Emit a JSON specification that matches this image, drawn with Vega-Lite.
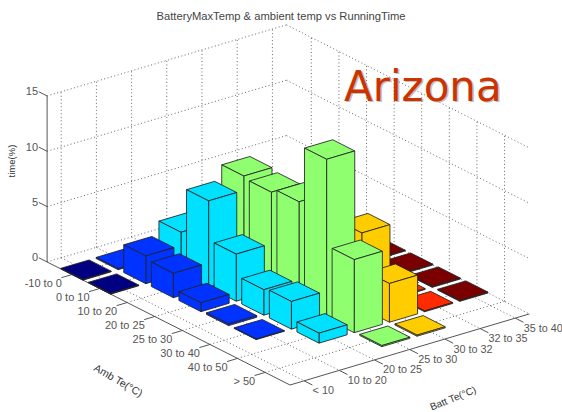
{"$schema":"https://vega.github.io/schema/vega-lite/v6.json","width":562,"height":412,"padding":0,"autosize":"none","background":"white",
"title":{"text":"BatteryMaxTemp & ambient temp vs RunningTime","anchor":"middle","dy":26,"fontSize":11.2,"font":"Liberation Sans","fontWeight":"normal","color":"#444"},
"config":{"view":{"stroke":null}},
"datasets":{
"bars":[
{"amb":"-10 to 0","batt":"10 to 20","a":1,"b":2,"time":0.1},
{"amb":"-10 to 0","batt":"< 10","a":1,"b":1,"time":0.06},
{"amb":"0 to 10","batt":"20 to 25","a":2,"b":3,"time":3.7},
{"amb":"0 to 10","batt":"10 to 20","a":2,"b":2,"time":2.5},
{"amb":"0 to 10","batt":"< 10","a":2,"b":1,"time":0.06},
{"amb":"10 to 20","batt":"25 to 30","a":3,"b":4,"time":9.1},
{"amb":"10 to 20","batt":"20 to 25","a":3,"b":3,"time":7.8},
{"amb":"10 to 20","batt":"10 to 20","a":3,"b":2,"time":2.2},
{"amb":"20 to 25","batt":"35 to 40","a":4,"b":7,"time":0.08},
{"amb":"20 to 25","batt":"25 to 30","a":4,"b":4,"time":8.9},
{"amb":"20 to 25","batt":"20 to 25","a":4,"b":3,"time":4.25},
{"amb":"20 to 25","batt":"10 to 20","a":4,"b":2,"time":0.8},
{"amb":"25 to 30","batt":"35 to 40","a":5,"b":7,"time":0.08},
{"amb":"25 to 30","batt":"25 to 30","a":5,"b":4,"time":9.3},
{"amb":"25 to 30","batt":"20 to 25","a":5,"b":3,"time":2.3},
{"amb":"25 to 30","batt":"10 to 20","a":5,"b":2,"time":0.15},
{"amb":"30 to 40","batt":"35 to 40","a":6,"b":7,"time":0.08},
{"amb":"30 to 40","batt":"32 to 35","a":6,"b":6,"time":0.08},
{"amb":"30 to 40","batt":"30 to 32","a":6,"b":5,"time":6.8},
{"amb":"30 to 40","batt":"25 to 30","a":6,"b":4,"time":14.4},
{"amb":"30 to 40","batt":"20 to 25","a":6,"b":3,"time":2.5},
{"amb":"30 to 40","batt":"10 to 20","a":6,"b":2,"time":0.05},
{"amb":"40 to 50","batt":"35 to 40","a":7,"b":7,"time":0.08},
{"amb":"40 to 50","batt":"32 to 35","a":7,"b":6,"time":0.08},
{"amb":"40 to 50","batt":"30 to 32","a":7,"b":5,"time":3.5},
{"amb":"40 to 50","batt":"25 to 30","a":7,"b":4,"time":6.6},
{"amb":"40 to 50","batt":"20 to 25","a":7,"b":3,"time":0.9},
{"amb":"> 50","batt":"30 to 32","a":8,"b":5,"time":0.1},
{"amb":"> 50","batt":"25 to 30","a":8,"b":4,"time":0.1}
],
"grid":[
{"a1":0.1,"b1":1,"z1":0,"a2":0.1,"b2":1,"z2":15},{"a1":0.1,"b1":2,"z1":0,"a2":0.1,"b2":2,"z2":15},{"a1":0.1,"b1":3,"z1":0,"a2":0.1,"b2":3,"z2":15},{"a1":0.1,"b1":4,"z1":0,"a2":0.1,"b2":4,"z2":15},{"a1":0.1,"b1":5,"z1":0,"a2":0.1,"b2":5,"z2":15},{"a1":0.1,"b1":6,"z1":0,"a2":0.1,"b2":6,"z2":15},{"a1":0.1,"b1":7,"z1":0,"a2":0.1,"b2":7,"z2":15},
{"a1":0.1,"b1":0.6,"z1":5,"a2":0.1,"b2":7.4,"z2":5},{"a1":0.1,"b1":0.6,"z1":10,"a2":0.1,"b2":7.4,"z2":10},{"a1":0.1,"b1":0.6,"z1":15,"a2":0.1,"b2":7.4,"z2":15},{"a1":0.1,"b1":0.6,"z1":0,"a2":0.1,"b2":7.4,"z2":0},
{"a1":1,"b1":7.4,"z1":0,"a2":1,"b2":7.4,"z2":15},{"a1":2,"b1":7.4,"z1":0,"a2":2,"b2":7.4,"z2":15},{"a1":3,"b1":7.4,"z1":0,"a2":3,"b2":7.4,"z2":15},{"a1":4,"b1":7.4,"z1":0,"a2":4,"b2":7.4,"z2":15},{"a1":5,"b1":7.4,"z1":0,"a2":5,"b2":7.4,"z2":15},{"a1":6,"b1":7.4,"z1":0,"a2":6,"b2":7.4,"z2":15},{"a1":7,"b1":7.4,"z1":0,"a2":7,"b2":7.4,"z2":15},{"a1":8,"b1":7.4,"z1":0,"a2":8,"b2":7.4,"z2":15},
{"a1":0.1,"b1":7.4,"z1":5,"a2":8.9,"b2":7.4,"z2":5},{"a1":0.1,"b1":7.4,"z1":10,"a2":8.9,"b2":7.4,"z2":10},{"a1":0.1,"b1":7.4,"z1":15,"a2":8.9,"b2":7.4,"z2":15},{"a1":0.1,"b1":7.4,"z1":0,"a2":8.9,"b2":7.4,"z2":0},
{"a1":1,"b1":0.6,"z1":0,"a2":1,"b2":7.4,"z2":0},{"a1":2,"b1":0.6,"z1":0,"a2":2,"b2":7.4,"z2":0},{"a1":3,"b1":0.6,"z1":0,"a2":3,"b2":7.4,"z2":0},{"a1":4,"b1":0.6,"z1":0,"a2":4,"b2":7.4,"z2":0},{"a1":5,"b1":0.6,"z1":0,"a2":5,"b2":7.4,"z2":0},{"a1":6,"b1":0.6,"z1":0,"a2":6,"b2":7.4,"z2":0},{"a1":7,"b1":0.6,"z1":0,"a2":7,"b2":7.4,"z2":0},{"a1":8,"b1":0.6,"z1":0,"a2":8,"b2":7.4,"z2":0},
{"a1":0.1,"b1":1,"z1":0,"a2":8.9,"b2":1,"z2":0},{"a1":0.1,"b1":2,"z1":0,"a2":8.9,"b2":2,"z2":0},{"a1":0.1,"b1":3,"z1":0,"a2":8.9,"b2":3,"z2":0},{"a1":0.1,"b1":4,"z1":0,"a2":8.9,"b2":4,"z2":0},{"a1":0.1,"b1":5,"z1":0,"a2":8.9,"b2":5,"z2":0},{"a1":0.1,"b1":6,"z1":0,"a2":8.9,"b2":6,"z2":0},{"a1":0.1,"b1":7,"z1":0,"a2":8.9,"b2":7,"z2":0}
],
"axes":[
{"a1":0.1,"b1":0.6,"z1":0,"a2":0.1,"b2":0.6,"z2":15,"part":"z"},
{"a1":0.1,"b1":0.6,"z1":0,"a2":8.9,"b2":0.6,"z2":0,"part":"amb"},
{"a1":8.9,"b1":0.6,"z1":0,"a2":8.9,"b2":7.4,"z2":0,"part":"batt"},
{"a1":0.1,"b1":0.6,"z1":0,"a2":-0.2,"b2":0.6,"z2":0,"part":"tick"},{"a1":0.1,"b1":0.6,"z1":5,"a2":-0.2,"b2":0.6,"z2":5,"part":"tick"},{"a1":0.1,"b1":0.6,"z1":10,"a2":-0.2,"b2":0.6,"z2":10,"part":"tick"},{"a1":0.1,"b1":0.6,"z1":15,"a2":-0.2,"b2":0.6,"z2":15,"part":"tick"},
{"a1":1,"b1":0.6,"z1":0,"a2":1,"b2":0.3,"z2":0,"part":"tick"},{"a1":2,"b1":0.6,"z1":0,"a2":2,"b2":0.3,"z2":0,"part":"tick"},{"a1":3,"b1":0.6,"z1":0,"a2":3,"b2":0.3,"z2":0,"part":"tick"},{"a1":4,"b1":0.6,"z1":0,"a2":4,"b2":0.3,"z2":0,"part":"tick"},{"a1":5,"b1":0.6,"z1":0,"a2":5,"b2":0.3,"z2":0,"part":"tick"},{"a1":6,"b1":0.6,"z1":0,"a2":6,"b2":0.3,"z2":0,"part":"tick"},{"a1":7,"b1":0.6,"z1":0,"a2":7,"b2":0.3,"z2":0,"part":"tick"},{"a1":8,"b1":0.6,"z1":0,"a2":8,"b2":0.3,"z2":0,"part":"tick"},
{"a1":8.9,"b1":1,"z1":0,"a2":9.2,"b2":1,"z2":0,"part":"tick"},{"a1":8.9,"b1":2,"z1":0,"a2":9.2,"b2":2,"z2":0,"part":"tick"},{"a1":8.9,"b1":3,"z1":0,"a2":9.2,"b2":3,"z2":0,"part":"tick"},{"a1":8.9,"b1":4,"z1":0,"a2":9.2,"b2":4,"z2":0,"part":"tick"},{"a1":8.9,"b1":5,"z1":0,"a2":9.2,"b2":5,"z2":0,"part":"tick"},{"a1":8.9,"b1":6,"z1":0,"a2":9.2,"b2":6,"z2":0,"part":"tick"},{"a1":8.9,"b1":7,"z1":0,"a2":9.2,"b2":7,"z2":0,"part":"tick"}
],
"labels":[
{"kind":"z","label":"0","a":0.1,"b":0.6,"z":0},{"kind":"z","label":"5","a":0.1,"b":0.6,"z":5},{"kind":"z","label":"10","a":0.1,"b":0.6,"z":10},{"kind":"z","label":"15","a":0.1,"b":0.6,"z":15},
{"kind":"amb","label":"-10 to 0","a":1,"b":0.6,"z":0},{"kind":"amb","label":"0 to 10","a":2,"b":0.6,"z":0},{"kind":"amb","label":"10 to 20","a":3,"b":0.6,"z":0},{"kind":"amb","label":"20 to 25","a":4,"b":0.6,"z":0},{"kind":"amb","label":"25 to 30","a":5,"b":0.6,"z":0},{"kind":"amb","label":"30 to 40","a":6,"b":0.6,"z":0},{"kind":"amb","label":"40 to 50","a":7,"b":0.6,"z":0},{"kind":"amb","label":"> 50","a":8,"b":0.6,"z":0},
{"kind":"batt","label":"< 10","a":8.9,"b":1,"z":0},{"kind":"batt","label":"10 to 20","a":8.9,"b":2,"z":0},{"kind":"batt","label":"20 to 25","a":8.9,"b":3,"z":0},{"kind":"batt","label":"25 to 30","a":8.9,"b":4,"z":0},{"kind":"batt","label":"30 to 32","a":8.9,"b":5,"z":0},{"kind":"batt","label":"32 to 35","a":8.9,"b":6,"z":0},{"kind":"batt","label":"35 to 40","a":8.9,"b":7,"z":0},
{"kind":"ztitle","label":"time(%)","a":-1.18,"b":0.6,"z":7.5},
{"kind":"atitle","label":"Amb Te(°C)","a":6.42,"b":-2.34,"z":0},
{"kind":"btitle","label":"Batt Te(°C)","a":11.7,"b":3.04,"z":0},
{"kind":"note","label":"Arizona","a":5.04,"b":7.4,"z":14.4}
]
},
"layer":[
{"data":{"name":"grid"},
"transform":[{"calculate":"290+(datum.a1-8.9)*27.6+(datum.b1-0.6)*35.2","as":"px"},{"calculate":"385+(datum.a1-8.9)*13.98-(datum.b1-0.6)*10.45-datum.z1*11.07","as":"py"},{"calculate":"290+(datum.a2-8.9)*27.6+(datum.b2-0.6)*35.2","as":"qx"},{"calculate":"385+(datum.a2-8.9)*13.98-(datum.b2-0.6)*10.45-datum.z2*11.07","as":"qy"}],
"mark":{"type":"rule","stroke":"#666","strokeWidth":1,"strokeDash":[1,2.5]},
"encoding":{"x":{"field":"px","type":"quantitative","scale":{"domain":[0,562],"nice":false,"zero":false},"axis":null},"y":{"field":"py","type":"quantitative","scale":{"domain":[412,0],"nice":false,"zero":false},"axis":null},"x2":{"field":"qx"},"y2":{"field":"qy"}}},
{"data":{"name":"axes"},
"transform":[{"calculate":"290+(datum.a1-8.9)*27.6+(datum.b1-0.6)*35.2","as":"px"},{"calculate":"385+(datum.a1-8.9)*13.98-(datum.b1-0.6)*10.45-datum.z1*11.07","as":"py"},{"calculate":"290+(datum.a2-8.9)*27.6+(datum.b2-0.6)*35.2","as":"qx"},{"calculate":"385+(datum.a2-8.9)*13.98-(datum.b2-0.6)*10.45-datum.z2*11.07","as":"qy"}],
"mark":{"type":"rule","stroke":"#555","strokeWidth":1},
"encoding":{"x":{"field":"px","type":"quantitative","axis":null},"y":{"field":"py","type":"quantitative","axis":null},"x2":{"field":"qx"},"y2":{"field":"qy"}}},
{"data":{"name":"bars"},
"transform":[
{"calculate":"[{f:0,v:0,u:-1,w:-1,t:1},{f:0,v:1,u:1,w:-1,t:1},{f:0,v:2,u:1,w:1,t:1},{f:0,v:3,u:-1,w:1,t:1},{f:0,v:4,u:-1,w:-1,t:1},{f:1,v:0,u:1,w:-1,t:0},{f:1,v:1,u:1,w:1,t:0},{f:1,v:2,u:1,w:1,t:1},{f:1,v:3,u:1,w:-1,t:1},{f:1,v:4,u:1,w:-1,t:0},{f:2,v:0,u:-1,w:-1,t:0},{f:2,v:1,u:1,w:-1,t:0},{f:2,v:2,u:1,w:-1,t:1},{f:2,v:3,u:-1,w:-1,t:1},{f:2,v:4,u:-1,w:-1,t:0}]","as":"verts"},
{"flatten":["verts"]},
{"calculate":"datum.a*1000+(8-datum.b)*100+datum.verts.f","as":"poly"},
{"calculate":"datum.verts.v","as":"vert"},
{"calculate":"datum.a+0.4*datum.verts.u-8.9","as":"da"},
{"calculate":"datum.b+0.4*datum.verts.w-0.6","as":"db"},
{"calculate":"290+datum.da*27.6+datum.db*35.2","as":"px"},
{"calculate":"385+datum.da*13.98-datum.db*10.45-datum.verts.t*datum.time*11.07","as":"py"}],
"mark":{"type":"line","stroke":"#222","strokeWidth":1,"strokeOpacity":0.85,"strokeJoin":"round","interpolate":"linear"},
"encoding":{"x":{"field":"px","type":"quantitative","axis":null},"y":{"field":"py","type":"quantitative","axis":null},"detail":{"field":"poly"},"order":{"field":"vert"},
"fill":{"field":"batt","type":"nominal","legend":null,"scale":{"domain":["< 10","10 to 20","20 to 25","25 to 30","30 to 32","32 to 35","35 to 40"],"range":["#000080","#0033ff","#00e0ff","#8fff70","#ffcc00","#ff2a00","#7a0000"]}}}},
{"data":{"name":"labels"},"transform":[{"filter":"datum.kind==='z'||datum.kind==='amb'"},{"calculate":"datum.kind==='z'?-9:-10","as":"ox"},{"calculate":"datum.kind==='z'?-3.5:9.5","as":"oy"},{"calculate":"290+(datum.a-8.9)*27.6+(datum.b-0.6)*35.2+datum.ox","as":"px"},{"calculate":"385+(datum.a-8.9)*13.98-(datum.b-0.6)*10.45-datum.z*11.07+datum.oy","as":"py"}],
"mark":{"type":"text","align":"right","baseline":"middle","font":"Liberation Sans","fontSize":11,"color":"#555"},
"encoding":{"x":{"field":"px","type":"quantitative","axis":null},"y":{"field":"py","type":"quantitative","axis":null},"text":{"field":"label"}}},
{"data":{"name":"labels"},"transform":[{"filter":"datum.kind==='batt'"},{"calculate":"290+(datum.a-8.9)*27.6+(datum.b-0.6)*35.2+8.5","as":"px"},{"calculate":"385+(datum.a-8.9)*13.98-(datum.b-0.6)*10.45+10.5","as":"py"}],
"mark":{"type":"text","align":"left","baseline":"middle","font":"Liberation Sans","fontSize":10.8,"color":"#555"},
"encoding":{"x":{"field":"px","type":"quantitative","axis":null},"y":{"field":"py","type":"quantitative","axis":null},"text":{"field":"label"}}},
{"data":{"name":"labels"},"transform":[{"filter":"datum.kind==='ztitle'"},{"calculate":"290+(datum.a-8.9)*27.6+(datum.b-0.6)*35.2","as":"px"},{"calculate":"385+(datum.a-8.9)*13.98-(datum.b-0.6)*10.45-datum.z*11.07","as":"py"}],
"mark":{"type":"text","align":"center","baseline":"middle","angle":270,"font":"Liberation Sans","fontSize":9.5,"color":"#333"},
"encoding":{"x":{"field":"px","type":"quantitative","axis":null},"y":{"field":"py","type":"quantitative","axis":null},"text":{"field":"label"}}},
{"data":{"name":"labels"},"transform":[{"filter":"datum.kind==='atitle'"},{"calculate":"290+(datum.a-8.9)*27.6+(datum.b-0.6)*35.2","as":"px"},{"calculate":"385+(datum.a-8.9)*13.98-(datum.b-0.6)*10.45-datum.z*11.07","as":"py"}],
"mark":{"type":"text","align":"center","baseline":"middle","angle":30,"font":"Liberation Sans","fontSize":10.5,"color":"#333"},
"encoding":{"x":{"field":"px","type":"quantitative","axis":null},"y":{"field":"py","type":"quantitative","axis":null},"text":{"field":"label"}}},
{"data":{"name":"labels"},"transform":[{"filter":"datum.kind==='btitle'"},{"calculate":"290+(datum.a-8.9)*27.6+(datum.b-0.6)*35.2","as":"px"},{"calculate":"385+(datum.a-8.9)*13.98-(datum.b-0.6)*10.45-datum.z*11.07","as":"py"}],
"mark":{"type":"text","align":"center","baseline":"middle","angle":338,"font":"Liberation Sans","fontSize":10,"color":"#333"},
"encoding":{"x":{"field":"px","type":"quantitative","axis":null},"y":{"field":"py","type":"quantitative","axis":null},"text":{"field":"label"}}},
{"data":{"name":"labels"},"transform":[{"filter":"datum.kind==='note'"},{"calculate":"290+(datum.a-8.9)*27.6+(datum.b-0.6)*35.2","as":"px"},{"calculate":"385+(datum.a-8.9)*13.98-(datum.b-0.6)*10.45-datum.z*11.07","as":"py"}],
"mark":{"type":"text","align":"center","baseline":"alphabetic","dx":1.5,"dy":1.5,"font":"DejaVu Sans","fontSize":42,"color":"#999","opacity":0.6},
"encoding":{"x":{"field":"px","type":"quantitative","axis":null},"y":{"field":"py","type":"quantitative","axis":null},"text":{"field":"label"}}},
{"data":{"name":"labels"},"transform":[{"filter":"datum.kind==='note'"},{"calculate":"290+(datum.a-8.9)*27.6+(datum.b-0.6)*35.2","as":"px"},{"calculate":"385+(datum.a-8.9)*13.98-(datum.b-0.6)*10.45-datum.z*11.07","as":"py"}],
"mark":{"type":"text","align":"center","baseline":"alphabetic","font":"DejaVu Sans","fontSize":42,"color":"#cc3300"},
"encoding":{"x":{"field":"px","type":"quantitative","axis":null},"y":{"field":"py","type":"quantitative","axis":null},"text":{"field":"label"}}}
]}
